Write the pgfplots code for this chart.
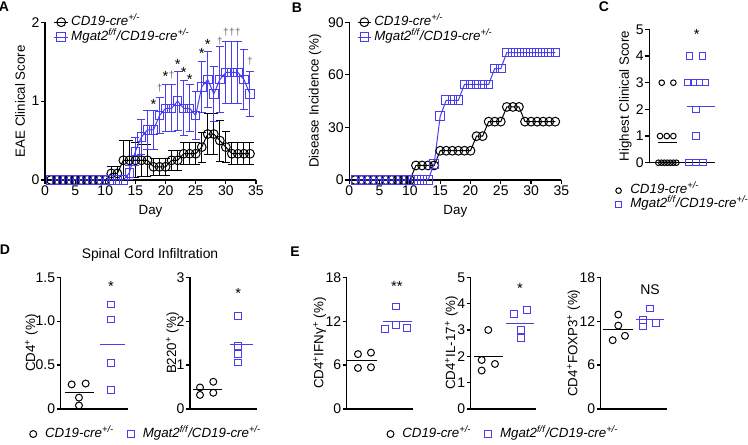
\documentclass[border=0pt]{standalone}
\usepackage{fontspec}
\setmainfont{Liberation Sans}
\usepackage{pgfplots}
\pgfplotsset{compat=1.18}
\usepackage{pgfplotstable}

\definecolor{mblue}{RGB}{72,62,240}
\definecolor{dag}{RGB}{105,105,105}

\pgfplotsset{
  prism/.style={
    scale only axis,
    axis lines=left,
    axis line style={-, line width=0.9pt, black},
    tick align=outside,
    major tick length=3pt,
    tick style={line width=0.9pt, black},
    font=\fontsize{10}{12}\selectfont,
    tick label style={font=\fontsize{10.5}{12}\selectfont, inner sep=1pt},
    label style={font=\fontsize{10}{12}\selectfont},
    /pgf/number format/assume math mode=true,
    clip=false,
    legend cell align=left,
  },
  dotplot/.style={
    prism, xmin=0, xmax=#1, xtick=\empty, ymin=0,
    ylabel style={yshift=-5pt},
    legend image code/.code={\path[draw=none] (0cm,0cm) -- (0.34cm,0cm);
      \draw[##1] plot coordinates {(0.1cm,0cm)};},
  },
  lineleg/.style={
    ylabel style={yshift=0.5pt},
    xlabel style={yshift=-2.5pt},
    legend image code/.code={\draw[mark repeat=2,mark phase=2,##1] plot coordinates {(0cm,0cm)(0.18cm,0cm)(0.36cm,0cm)};},
  },
  legfont/.style={
    font=\fontsize{10}{12}\selectfont,
    draw=none, fill=none, inner sep=0pt,
    nodes={inner ysep=0pt, inner xsep=2pt, text height=6.5pt, text depth=2pt},
  },
}

% EAE clinical score, mean and SEM
\pgfplotstableread{
x y e
1 0 0
2 0 0
3 0 0
4 0 0
5 0 0
6 0 0
7 0 0
8 0 0
9 0 0
10 0 0
11 0.083 0.083
12 0.083 0.083
13 0.25 0.25
14 0.25 0.25
15 0.25 0.22
16 0.25 0.2
17 0.25 0.2
18 0.167 0.11
19 0.167 0.11
20 0.167 0.11
21 0.25 0.13
22 0.25 0.13
23 0.333 0.14
24 0.333 0.14
25 0.333 0.14
26 0.417 0.19
27 0.583 0.26
28 0.583 0.26
29 0.5 0.26
30 0.417 0.2
31 0.333 0.14
32 0.333 0.14
33 0.333 0.14
34 0.333 0.14
}\scoreCre

\pgfplotstableread{
x y e
1 0 0
2 0 0
3 0 0
4 0 0
5 0 0
6 0 0
7 0 0
8 0 0
9 0 0
10 0 0
11 0 0
12 0 0
13 0 0
14 0.091 0.091
15 0.364 0.18
16 0.545 0.22
17 0.636 0.25
18 0.636 0.25
19 0.818 0.23
20 0.909 0.3
21 0.909 0.3
22 1.0 0.37
23 0.909 0.35
24 0.909 0.3
25 0.818 0.3
26 1.182 0.32
27 1.273 0.36
28 1.091 0.35
29 1.273 0.42
30 1.364 0.39
31 1.364 0.39
32 1.364 0.39
33 1.273 0.38
34 1.091 0.29
}\scoreMgat

% disease incidence (%)
\pgfplotstableread{
x y
1 0
2 0
3 0
4 0
5 0
6 0
7 0
8 0
9 0
10 0
11 8.3
12 8.3
13 8.3
14 8.3
15 16.7
16 16.7
17 16.7
18 16.7
19 16.7
20 16.7
21 25
22 25
23 33.3
24 33.3
25 33.3
26 41.7
27 41.7
28 41.7
29 33.3
30 33.3
31 33.3
32 33.3
33 33.3
34 33.3
}\incCre

\pgfplotstableread{
x y
1 0
2 0
3 0
4 0
5 0
6 0
7 0
8 0
9 0
10 0
11 0
12 0
13 0
14 9.1
15 36.4
16 45.5
17 45.5
18 45.5
19 54.5
20 54.5
21 54.5
22 54.5
23 54.5
24 63.6
25 63.6
26 72.7
27 72.7
28 72.7
29 72.7
30 72.7
31 72.7
32 72.7
33 72.7
34 72.7
}\incMgat

\newcommand{\cre}{\textit{CD19-cre\textsuperscript{+/-}}}
\newcommand{\mgat}{\textit{Mgat2\textsuperscript{f/f}/CD19-cre\textsuperscript{+/-}}}

\begin{document}
\begin{tikzpicture}
\useasboundingbox (0,0) rectangle (561pt,333.75pt);

\node[font=\fontsize{10.5}{12}\bfseries\selectfont] at (3pt,328.5pt) {A};
\node[font=\fontsize{10.5}{12}\bfseries\selectfont] at (222.75pt,327.75pt) {B};
\node[font=\fontsize{10.5}{12}\bfseries\selectfont] at (453pt,328.5pt) {C};
\node[font=\fontsize{10.5}{12}\bfseries\selectfont] at (3.75pt,146.25pt) {D};
\node[font=\fontsize{10.5}{12}\bfseries\selectfont] at (221.25pt,145pt) {E};
\node[font=\fontsize{10.4}{12}\selectfont] at (112.5pt,142.5pt) {Spinal Cord Infiltration};

% ---------------- A
\begin{axis}[prism, lineleg, at={(33.75pt,198.75pt)}, anchor=south west,
  width=158.25pt, height=118.3pt,
  xmin=0, xmax=35, ymin=0, ymax=2,
  xtick={0,5,...,35}, ytick={0,1,2},
  xlabel={Day}, ylabel={EAE Clinical Score},
  legend style={legfont, at={(0.041,1.038)}, anchor=north west, row sep=2.75pt}]
\addplot[forget plot, draw=none, black, line width=0.75pt, restrict x to domain=11:34,
  error bars/.cd, y dir=both, y explicit,
  error bar style={line width=0.75pt, black},
  error mark options={rotate=90, mark size=3pt, line width=0.75pt, black}]
  table[x=x, y=y, y error=e] {\scoreCre};
\addplot[forget plot, draw=none, mblue, line width=0.75pt, restrict x to domain=14:34,
  error bars/.cd, y dir=both, y explicit,
  error bar style={line width=0.75pt, mblue},
  error mark options={rotate=90, mark size=3pt, line width=0.75pt, mblue}]
  table[x=x, y=y, y error=e] {\scoreMgat};
\addplot[black, line width=0.75pt, mark=o, mark size=3.3pt,
  mark options={line width=0.75pt}]
  table[x=x, y=y] {\scoreCre};
\addplot[mblue, line width=0.75pt, mark=square, mark size=3.2pt,
  mark options={line width=0.75pt}]
  table[x=x, y=y] {\scoreMgat};
\legend{\cre, \mgat}
\begin{scope}[font=\fontsize{11}{12}\selectfont]
\node at (axis cs:18,0.96) {*};
\node at (axis cs:20,1.31) {*};
\node at (axis cs:22,1.46) {*};
\node at (axis cs:23,1.36) {*};
\node at (axis cs:24,1.27) {*};
\node at (axis cs:26,1.60) {*};
\node at (axis cs:27,1.72) {*};
\end{scope}
\begin{scope}[font=\fontsize{7.5}{8}\selectfont, text=dag]
\node at (axis cs:19,1.17) {†};
\node at (axis cs:21,1.33) {†};
\node at (axis cs:29,1.76) {†};
\node at (axis cs:30,1.87) {†};
\node at (axis cs:31,1.87) {†};
\node at (axis cs:32,1.87) {†};
\node at (axis cs:34,1.50) {†};
\end{scope}
\end{axis}

% ---------------- B
\begin{axis}[prism, lineleg, at={(262pt,198.75pt)}, anchor=south west,
  width=159pt, height=118.3pt,
  xmin=0, xmax=35, ymin=0, ymax=90,
  xtick={0,5,...,35}, ytick={0,30,60,90},
  xlabel={Day}, ylabel={Disease Incidence (\%)},
  legend style={legfont, at={(0.035,1.038)}, anchor=north west, row sep=2.75pt}]
\addplot[black, line width=0.75pt, mark=o, mark size=3.3pt,
  mark options={line width=0.75pt}]
  table[x=x, y=y] {\incCre};
\addplot[mblue, line width=0.75pt, mark=square, mark size=3.2pt,
  mark options={line width=0.75pt}]
  table[x=x, y=y] {\incMgat};
\legend{\cre, \mgat}
\end{axis}

% ---------------- C
\begin{axis}[dotplot=65.7, ylabel style={yshift=3.7pt}, at={(487pt,211.7pt)}, anchor=south west,
  width=49.3pt, height=100pt, ymax=5, ytick={0,1,...,5},
  ylabel={Highest Clinical Score},
  legend style={legfont, at={(-0.53,-0.165)}, anchor=north west, row sep=2pt}]
\addplot[only marks, mark=o, mark size=2.1pt, black, line width=0.75pt]
  coordinates {(12.4,3)(24,3)(10.7,1)(17.4,1)(24,1)
  (9,0)(12,0)(15,0)(18,0)(21,0)(24,0)(27,0)};
\addplot[only marks, mark=square, mark size=2.4pt, mblue, line width=0.75pt]
  coordinates {(40,4)(53.4,4)(38.7,3)(44.4,3)(50.2,3)(55.9,3)
  (46.7,2)(46.7,1)(39.7,0)(46.7,0)(53.7,0)};
\addplot[forget plot, black, line width=0.75pt] coordinates {(9,0.75)(28,0.75)};
\addplot[forget plot, mblue, line width=0.75pt] coordinates {(38,2.09)(65.7,2.09)};
\legend{\cre, \mgat}
\node[font=\fontsize{11}{12}\selectfont] at (axis cs:47.4,4.82) {*};
\end{axis}

% ---------------- D1
\begin{axis}[dotplot=67, ylabel style={yshift=-1.3pt}, at={(45.5pt,27pt)}, anchor=south west,
  width=50.25pt, height=98.8pt, ymax=1.5, ytick={0,0.5,1,1.5},
  yticklabels={0,0.5,1.0,1.5},
  ylabel={CD4\textsuperscript{+} (\%)},
  legend columns=2,
  legend style={legfont, at={(-0.47,-0.19)}, anchor=west,
    /tikz/every even column/.append style={column sep=8pt}}]
\addplot[only marks, mark=o, mark size=2.6pt, black, line width=0.75pt]
  coordinates {(11,0.28)(25,0.29)(18.3,0.13)(18.3,0.04)};
\addplot[only marks, mark=square, mark size=2.5pt, mblue, line width=0.75pt]
  coordinates {(50.3,1.19)(50.3,1.02)(50.3,0.52)(50.3,0.22)};
\addplot[forget plot, black, line width=0.75pt] coordinates {(4.3,0.185)(33.3,0.185)};
\addplot[forget plot, mblue, line width=0.75pt] coordinates {(39.3,0.74)(64.3,0.74)};
\legend{\cre, \mgat}
\node[font=\fontsize{11}{12}\selectfont] at (axis cs:50.3,1.4) {*};
\end{axis}

% ---------------- D2
\begin{axis}[dotplot=66.7, ylabel style={yshift=-1.3pt}, at={(142.5pt,27pt)}, anchor=south west,
  width=50pt, height=98.8pt, ymax=3, ytick={0,1,2,3},
  ylabel={B220\textsuperscript{+} (\%)}]
\addplot[only marks, mark=o, mark size=2.6pt, black, line width=0.75pt]
  coordinates {(10,0.49)(23.3,0.62)(10,0.32)(23.3,0.37)};
\addplot[only marks, mark=square, mark size=2.5pt, mblue, line width=0.75pt]
  coordinates {(48.3,2.12)(48.3,1.43)(48.3,1.25)(48.3,1.06)};
\addplot[black, line width=0.75pt] coordinates {(2.7,0.45)(31.7,0.45)};
\addplot[mblue, line width=0.75pt] coordinates {(40,1.465)(63.3,1.465)};
\node[font=\fontsize{11}{12}\selectfont] at (axis cs:48.3,2.63) {*};
\end{axis}

% ---------------- E1
\begin{axis}[dotplot=66.3, at={(260pt,27pt)}, anchor=south west,
  width=49.7pt, height=98.8pt, ymax=18, ytick={0,6,12,18},
  ylabel={CD4\textsuperscript{+}IFNγ\textsuperscript{+} (\%)},
  legend columns=2,
  legend style={legfont, at={(0.6,-0.19)}, anchor=west,
    /tikz/every even column/.append style={column sep=8pt}}]
\addplot[only marks, mark=o, mark size=2.6pt, black, line width=0.75pt]
  coordinates {(11.3,7.5)(24.3,7.7)(11.3,5.6)(24.3,5.7)};
\addplot[only marks, mark=square, mark size=2.5pt, mblue, line width=0.75pt]
  coordinates {(49.3,14.0)(38.3,10.9)(49.3,11.5)(60.6,11.1)};
\addplot[forget plot, black, line width=0.75pt] coordinates {(0,6.6)(30.3,6.6)};
\addplot[forget plot, mblue, line width=0.75pt] coordinates {(36.3,11.9)(65.3,11.9)};
\legend{\cre, \mgat}
\node[font=\fontsize{11}{12}\selectfont] at (axis cs:50.3,16.7) {**};
\end{axis}

% ---------------- E2
\begin{axis}[dotplot=65, at={(353pt,27pt)}, anchor=south west,
  width=48.75pt, height=98.8pt, ymax=5, ytick={0,1,...,5},
  ylabel={CD4\textsuperscript{+}IL-17\textsuperscript{+} (\%)}]
\addplot[only marks, mark=o, mark size=2.6pt, black, line width=0.75pt]
  coordinates {(17.6,3.0)(11,1.86)(24.3,1.71)(11,1.46)};
\addplot[only marks, mark=square, mark size=2.5pt, mblue, line width=0.75pt]
  coordinates {(43.3,3.6)(56,3.75)(50,3.0)(50,2.69)};
\addplot[black, line width=0.75pt] coordinates {(3.3,2.0)(32,2.0)};
\addplot[mblue, line width=0.75pt] coordinates {(35.3,3.26)(63.6,3.26)};
\node[font=\fontsize{11}{12}\selectfont] at (axis cs:49.3,4.58) {*};
\end{axis}

% ---------------- E3
\begin{axis}[dotplot=66, at={(450.5pt,27pt)}, anchor=south west,
  width=49.5pt, height=98.8pt, ymax=18, ytick={0,6,12,18},
  ylabel={CD4\textsuperscript{+}FOXP3\textsuperscript{+} (\%)}]
\addplot[only marks, mark=o, mark size=2.6pt, black, line width=0.75pt]
  coordinates {(17.6,12.9)(17.6,11.4)(12,9.4)(24.3,10.0)};
\addplot[only marks, mark=square, mark size=2.5pt, mblue, line width=0.75pt]
  coordinates {(49.3,13.75)(42.6,12.2)(55.3,11.75)(42.6,11.25)};
\addplot[black, line width=0.75pt] coordinates {(2.6,10.9)(32.6,10.9)};
\addplot[mblue, line width=0.75pt] coordinates {(35,12.24)(63.6,12.24)};
\node[font=\fontsize{10.5}{12}\selectfont] at (axis cs:49.3,16.3) {NS};
\end{axis}
\end{tikzpicture}
\end{document}
